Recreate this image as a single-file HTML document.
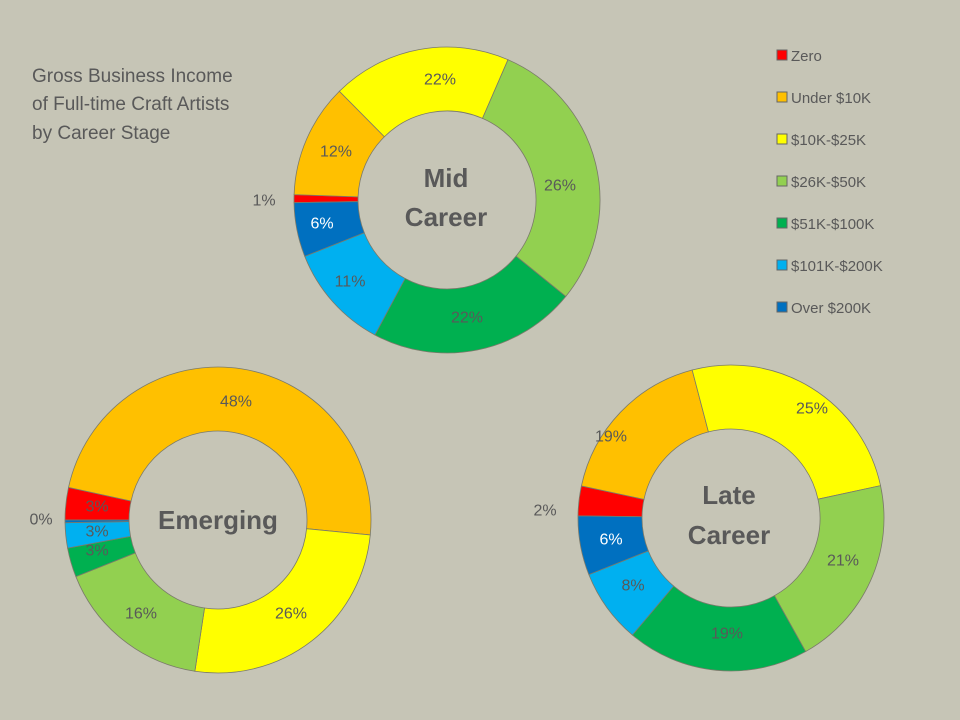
<!DOCTYPE html>
<html><head><meta charset="utf-8"><style>
body{margin:0;background:#c6c5b6;}
svg{display:block;font-family:"Liberation Sans",sans-serif;}
</style></head><body>
<svg id="s" width="960" height="720" xmlns="http://www.w3.org/2000/svg">
<rect width="960" height="720" fill="#c6c5b6"/>
<g id="d"></g>
<g font-size="19" fill="#595959">
<text x="32" y="82">Gross Business Income</text>
<text x="32" y="110">of Full-time Craft Artists</text>
<text x="32" y="139">by Career Stage</text>
</g>
<g font-size="15" fill="#595959">
<rect x="777" y="50" width="10" height="10" fill="#ff0000" stroke="#666"/><text x="791" y="61">Zero</text>
<rect x="777" y="92" width="10" height="10" fill="#ffc000" stroke="#666"/><text x="791" y="103">Under $10K</text>
<rect x="777" y="134" width="10" height="10" fill="#ffff00" stroke="#666"/><text x="791" y="145">$10K-$25K</text>
<rect x="777" y="176" width="10" height="10" fill="#92d050" stroke="#666"/><text x="791" y="187">$26K-$50K</text>
<rect x="777" y="218" width="10" height="10" fill="#00b050" stroke="#666"/><text x="791" y="229">$51K-$100K</text>
<rect x="777" y="260" width="10" height="10" fill="#00b0f0" stroke="#666"/><text x="791" y="271">$101K-$200K</text>
<rect x="777" y="302" width="10" height="10" fill="#0070c0" stroke="#666"/><text x="791" y="313">Over $200K</text>
</g>
<g font-size="16" fill="#595959" text-anchor="middle" dominant-baseline="central">
<text x="440" y="80">22%</text><text x="336" y="152">12%</text><text x="560" y="186">26%</text>
<text x="322" y="224" fill="#ffffff">6%</text><text x="350" y="282">11%</text><text x="467" y="318">22%</text><text x="264" y="201">1%</text>
<text x="236" y="402">48%</text><text x="97" y="507">3%</text><text x="97" y="532">3%</text><text x="97" y="551">3%</text>
<text x="141" y="614">16%</text><text x="291" y="614">26%</text><text x="41" y="520">0%</text>
<text x="611" y="437">19%</text><text x="812" y="409">25%</text><text x="843" y="561">21%</text>
<text x="727" y="634">19%</text><text x="633" y="586">8%</text><text x="611" y="540" fill="#ffffff">6%</text><text x="545" y="511">2%</text>
</g>
<g font-size="26" font-weight="bold" fill="#595959" text-anchor="middle" dominant-baseline="central">
<text x="446" y="178">Mid</text><text x="446" y="217">Career</text>
<text x="218" y="520">Emerging</text>
<text x="729" y="495">Late</text><text x="729" y="535">Career</text>
</g>
</svg>
<script>
var cols=["#ff0000","#ffc000","#ffff00","#92d050","#00b050","#00b0f0","#0070c0"];
function pt(cx,cy,r,a){a=a*Math.PI/180;return [cx+r*Math.sin(a),cy-r*Math.cos(a)];}
function donut(cx,cy,b){
 var R=153,r=89,g=document.getElementById('d'),h='';
 for(var i=0;i<7;i++){var a0=b[i],a1=b[(i+1)%7];if(a1<a0)a1+=360;if(a1-a0<0.01)continue;
  var L=(a1-a0)>180?1:0,p1=pt(cx,cy,R,a0),p2=pt(cx,cy,R,a1),p3=pt(cx,cy,r,a1),p4=pt(cx,cy,r,a0);
  h+='<path d="M'+p1+' A'+R+' '+R+' 0 '+L+' 1 '+p2+' L'+p3+' A'+r+' '+r+' 0 '+L+' 0 '+p4+'Z" fill="'+cols[i]+'" stroke="#7a7a6a" stroke-width="0.8"/>';}
 g.innerHTML+=h;}
donut(447,200,[269,272,315.3,23.5,129.1,208.1,248.4]);
donut(218,520,[270,282.3,95.6,188.7,248.3,259.4,269]);
donut(731,518,[270.8,282.1,345.3,77.8,150.8,220.1,248.3]);
</script>
</body></html>
